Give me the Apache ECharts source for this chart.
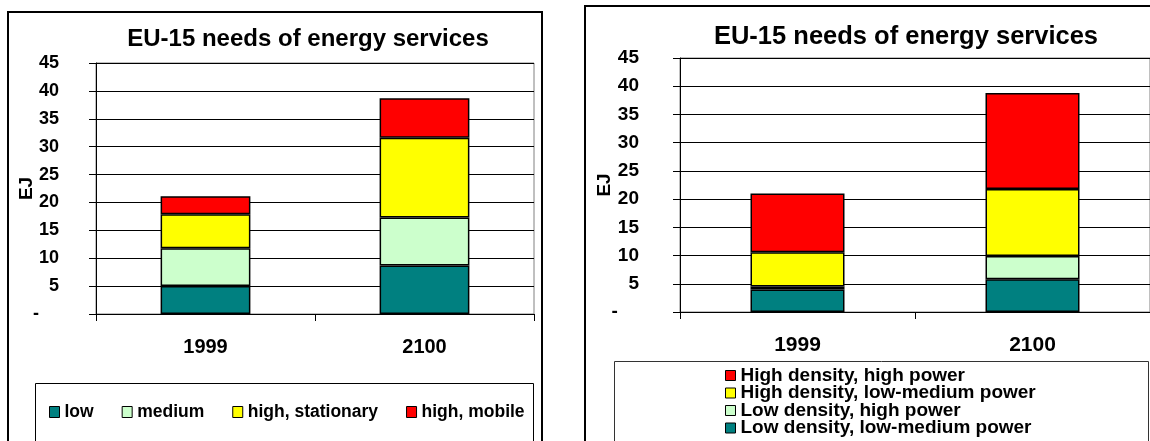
<!DOCTYPE html>
<html>
<head>
<meta charset="utf-8">
<script src="https://cdn.jsdelivr.net/npm/echarts@6/dist/echarts.min.js"></script>
<style>
  html, body { margin: 0; padding: 0; background: #ffffff; }
  #chart { width: 1150px; height: 441px; }
</style>
</head>
<body>
<div id="chart"></div>
<script>
// ---- Data ----
const categories = ['1999', '2100'];
const titleText = 'EU-15 needs of energy services';
const yAxisName = 'EJ';
const yTicks = [0, 5, 10, 15, 20, 25, 30, 35, 40, 45];

// Left chart: by temperature level of service
const leftNames = ['low', 'medium', 'high, stationary', 'high, mobile'];
const leftLow = [5.0, 8.7];
const leftMedium = [6.8, 8.6];
const leftHighStationary = [6.1, 14.3];
const leftHighMobile = [3.2, 7.1];

// Right chart: by density and power
const rightNames = ['Low density, low-medium power', 'Low density, high power',
                    'High density, low-medium power', 'High density, high power'];
const rightLowDensLowPow = [4.0, 5.8];
const rightLowDensHighPow = [0.5, 4.1];
const rightHighDensLowPow = [6.1, 11.9];
const rightHighDensHighPow = [10.4, 17.0];

const colors = ['#008080', '#CCFFCC', '#FFFF00', '#FF0000'];
const FONT = '"Liberation Sans", Arial, sans-serif';

const chart = echarts.init(document.getElementById('chart'), null, { renderer: 'canvas' });

function yAxisCfg(gridIndex, fontSize, margin, nameGap) {
  return {
    gridIndex: gridIndex,
    type: 'value',
    min: yTicks[0], max: yTicks[yTicks.length - 1], interval: yTicks[1] - yTicks[0],
    name: yAxisName,
    nameLocation: 'middle',
    nameRotate: 90,
    nameGap: nameGap,
    nameMoveOverlap: false,
    nameTextStyle: { fontFamily: FONT, fontWeight: 'bold', fontSize: 19, color: '#000' },
    axisLine: { show: true, lineStyle: { color: '#000', width: 1 } },
    axisTick: { show: true, length: 7, lineStyle: { color: '#000' } },
    axisLabel: {
      margin: margin,
      fontFamily: FONT, fontWeight: 'bold', fontSize: fontSize, color: '#000',
      formatter: function (v) { return v === 0 ? '-    ' : String(v); }
    },
    splitLine: { show: true, lineStyle: { color: '#000', width: 1 } }
  };
}

function xAxisCfg(gridIndex, fontSize) {
  return {
    gridIndex: gridIndex,
    type: 'category',
    data: categories,
    axisLine: { show: true, lineStyle: { color: '#000', width: 1 } },
    axisTick: { show: true, length: 7, lineStyle: { color: '#000' } },
    axisLabel: { margin: 23, fontFamily: FONT, fontWeight: 'bold', fontSize: fontSize, color: '#000' }
  };
}

function barSeries(name, data, color, xi, yi, stack, width) {
  return {
    name: name, type: 'bar', stack: stack, data: data,
    xAxisIndex: xi, yAxisIndex: yi,
    barWidth: width,
    itemStyle: { color: color, borderColor: '#000', borderWidth: 1.5 },
    emphasis: { disabled: true },
    animation: false
  };
}

const option = {
  backgroundColor: '#ffffff',
  animation: false,
  title: [
    { text: titleText, left: 303, top: 22, textAlign: 'center',
      textStyle: { fontFamily: FONT, fontWeight: 'bold', fontSize: 24, color: '#000' } },
    { text: titleText, left: 901, top: 19, textAlign: 'center',
      textStyle: { fontFamily: FONT, fontWeight: 'bold', fontSize: 25.5, color: '#000' } }
  ],
  grid: [
    { left: 96, top: 63, width: 438, height: 251, show: true, borderColor: '#808080', borderWidth: 1, containLabel: false },
    { left: 680, top: 58, width: 471, height: 254, show: true, borderColor: '#808080', borderWidth: 1, containLabel: false }
  ],
  xAxis: [xAxisCfg(0, 20), xAxisCfg(1, 21)],
  yAxis: [yAxisCfg(0, 18, 37, 60), yAxisCfg(1, 19, 41, 66)],
  legend: [
    {
      data: leftNames,
      orient: 'horizontal',
      left: 49, top: 402,
      padding: 0,
      itemWidth: 10, itemHeight: 11, itemGap: 28,
      selectedMode: false,
      icon: 'rect',
      itemStyle: { borderColor: '#000', borderWidth: 1 },
      textStyle: { fontFamily: FONT, fontWeight: 'bold', fontSize: 17.5, color: '#000', lineHeight: 20 }
    },
    {
      data: rightNames.slice().reverse(),
      orient: 'vertical',
      left: 725, top: 366,
      padding: 0,
      height: 120,
      itemWidth: 10, itemHeight: 10, itemGap: -1.5,
      selectedMode: false,
      icon: 'rect',
      itemStyle: { borderColor: '#000', borderWidth: 1 },
      textStyle: { fontFamily: FONT, fontWeight: 'bold', fontSize: 19, color: '#000', lineHeight: 16 }
    }
  ],
  graphic: [
    { type: 'rect', shape: { x: 8, y: 12, width: 534, height: 460 },
      style: { fill: 'none', stroke: '#000', lineWidth: 2 }, silent: true, z: -1 },
    { type: 'rect', shape: { x: 35.5, y: 383.5, width: 498, height: 80 },
      style: { fill: 'none', stroke: '#000', lineWidth: 1 }, silent: true, z: -1 },
    { type: 'rect', shape: { x: 585, y: 6, width: 600, height: 460 },
      style: { fill: 'none', stroke: '#000', lineWidth: 2 }, silent: true, z: -1 },
    { type: 'rect', shape: { x: 614.5, y: 361.5, width: 534, height: 100 },
      style: { fill: 'none', stroke: '#333', lineWidth: 1 }, silent: true, z: -1 }
  ],
  series: [
    barSeries(leftNames[0], leftLow, colors[0], 0, 0, 'L', '41%'),
    barSeries(leftNames[1], leftMedium, colors[1], 0, 0, 'L', '41%'),
    barSeries(leftNames[2], leftHighStationary, colors[2], 0, 0, 'L', '41%'),
    barSeries(leftNames[3], leftHighMobile, colors[3], 0, 0, 'L', '41%'),
    barSeries(rightNames[0], rightLowDensLowPow, colors[0], 1, 1, 'R', '40%'),
    barSeries(rightNames[1], rightLowDensHighPow, colors[1], 1, 1, 'R', '40%'),
    barSeries(rightNames[2], rightHighDensLowPow, colors[2], 1, 1, 'R', '40%'),
    barSeries(rightNames[3], rightHighDensHighPow, colors[3], 1, 1, 'R', '40%')
  ]
};

chart.setOption(option);
</script>
</body>
</html>
